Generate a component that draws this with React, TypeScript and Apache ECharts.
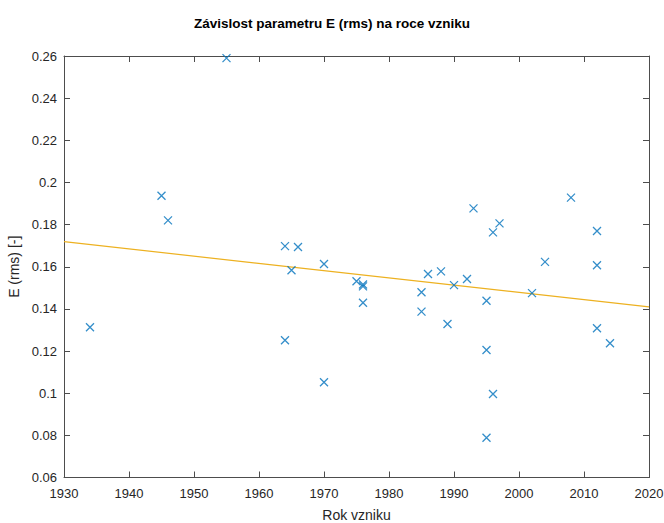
import React, { useEffect, useRef } from "react";
import * as echarts from "echarts";

const years = [1934, 1945, 1946, 1955, 1964, 1964, 1965, 1966, 1970, 1970, 1975, 1976, 1976, 1976, 1985, 1985, 1986, 1988, 1989, 1990, 1992, 1993, 1995, 1995, 1995, 1996, 1996, 1997, 2002, 2004, 2008, 2012, 2012, 2012, 2014];
const values = [0.1313, 0.1937, 0.182, 0.259, 0.1698, 0.1251, 0.1583, 0.1694, 0.1613, 0.1052, 0.1531, 0.1516, 0.1507, 0.1429, 0.1479, 0.1387, 0.1566, 0.1578, 0.1328, 0.1513, 0.1542, 0.1877, 0.1439, 0.1205, 0.0789, 0.1763, 0.0996, 0.1806, 0.1475, 0.1623, 0.1928, 0.177, 0.1607, 0.1308, 0.1237];
const fitYears = [1930, 2020];
const fitValues = [0.1719, 0.141];

const titleText = "Závislost parametru E (rms) na roce vzniku";
const xLabel = "Rok vzniku";
const yLabel = "E (rms) [-]";

export default function App() {
  const ref = useRef<HTMLDivElement>(null);
  useEffect(() => {
    if (!ref.current) return;
    const chart = echarts.init(ref.current, undefined, { renderer: "svg" });
    const font = "'Liberation Sans', Arial, sans-serif";
    const axisColor = "#4d4d4d";
    const common = {
      type: "value" as const,
      axisLine: { show: true, lineStyle: { color: axisColor, width: 1 } },
      axisTick: { show: true, inside: true, length: 6, lineStyle: { color: axisColor } },
      splitLine: { show: false },
    };
    chart.setOption({
      animation: false,
      backgroundColor: "#ffffff",
      textStyle: { fontFamily: font },
      title: {
        text: titleText,
        left: "center",
        top: 11,
        textStyle: { fontFamily: font, fontSize: 13.5, fontWeight: "bold", color: "#000" },
      },
      grid: { left: 64, right: 15, top: 56, bottom: 45.5, outerBoundsMode: "none", containLabel: false },
      xAxis: [
        {
          ...common,
          min: 1930,
          max: 2020,
          interval: 10,
          position: "bottom",
          name: xLabel,
          nameLocation: "middle",
          nameGap: 30,
          nameTextStyle: { fontFamily: font, fontSize: 14, color: "#262626" },
          axisLabel: {
            fontFamily: font,
            fontSize: 13,
            color: "#262626",
            margin: 9,
            formatter: (v: number) => String(v),
          },
        },
        {
          ...common,
          min: 1930,
          max: 2020,
          interval: 10,
          position: "top",
          axisLabel: { show: false },
        },
      ],
      yAxis: [
        {
          ...common,
          min: 0.06,
          max: 0.26,
          interval: 0.02,
          position: "left",
          name: yLabel,
          nameLocation: "middle",
          nameGap: 39,
          nameTextStyle: { fontFamily: font, fontSize: 14, color: "#262626" },
          axisLabel: {
            fontFamily: font,
            fontSize: 13,
            color: "#262626",
            margin: 7,
            formatter: (v: number) => String(Math.round(v * 100) / 100),
          },
        },
        {
          ...common,
          min: 0.06,
          max: 0.26,
          interval: 0.02,
          position: "right",
          axisLabel: { show: false },
        },
      ],
      series: [
        {
          type: "line",
          data: fitYears.map((y, i) => [y, fitValues[i]]),
          symbol: "none",
          lineStyle: { color: "#EDB120", width: 1.2 },
          z: 2,
        },
        {
          type: "scatter",
          data: years.map((y, i) => [y, values[i]]),
          symbol: "path://M0,0L10,10M10,0L0,10",
          symbolSize: 8,
          itemStyle: { color: "transparent", borderColor: "#0072BD", borderWidth: 1.3 },
          z: 3,
        },
      ],
    });
    return () => chart.dispose();
  }, []);
  return (
    <div
      ref={ref}
      style={{ position: "fixed", left: 0, top: 0, width: 664, height: 523, background: "#fff" }}
    />
  );
}
